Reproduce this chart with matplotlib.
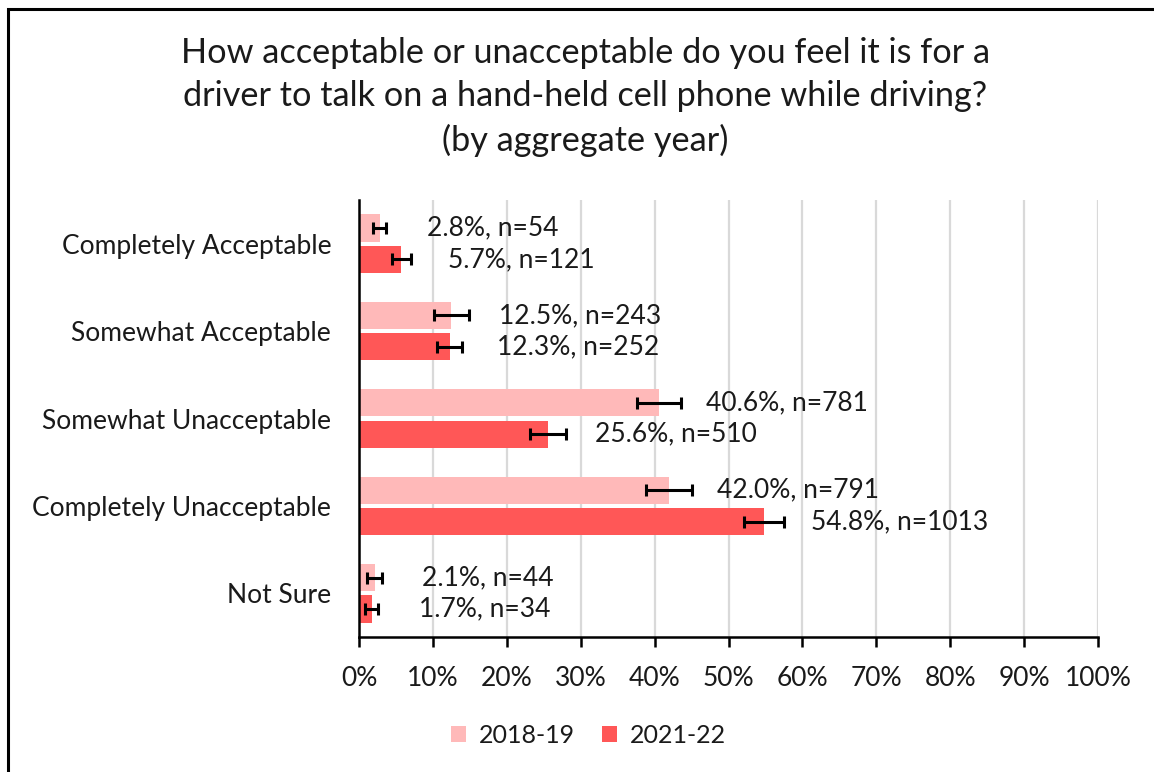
import matplotlib.pyplot as plt
import numpy as np
from matplotlib.patches import Rectangle

plt.rcParams['font.family'] = ['Lato', 'DejaVu Sans']

# data
categories = ["Completely Acceptable", "Somewhat Acceptable", "Somewhat Unacceptable",
              "Completely Unacceptable", "Not Sure"]
years = ["2018-19", "2021-22"]
pct_2018 = [2.8, 12.5, 40.6, 42.0, 2.1]
n_2018 = [54, 243, 781, 791, 44]
err_2018 = [0.9, 2.4, 3.0, 3.1, 1.0]
pct_2021 = [5.7, 12.3, 25.6, 54.8, 1.7]
n_2021 = [121, 252, 510, 1013, 34]
err_2021 = [1.3, 1.7, 2.4, 2.7, 0.9]

c_2018 = "#FFB9B9"
c_2021 = "#FF5757"
fs = 19

fig = plt.figure(figsize=(11.54, 7.72), dpi=100)
ax = fig.add_axes([0.3111, 0.1749, 0.6404, 0.566])

y = np.arange(len(categories))
h = 0.31
off = 0.18

for vals, errs, ns, col, d, lab in [(pct_2018, err_2018, n_2018, c_2018, -off, years[0]),
                                     (pct_2021, err_2021, n_2021, c_2021, off, years[1])]:
    ax.barh(y + d, vals, height=h, color=col, label=lab, zorder=2)
    ax.errorbar(vals, y + d, xerr=errs, fmt='none', ecolor='black',
                elinewidth=2.2, capsize=4.5, capthick=2.2, zorder=3)
    for yi, v, n in zip(y + d, vals, ns):
        ax.annotate(f"{v:.1f}%, n={n}", xy=(v, yi), xytext=(34, 0),
                    textcoords='offset points', va='center', ha='left',
                    fontsize=fs, color='#1a1a1a')

ax.set_xlim(0, 100)
ax.set_ylim(len(categories) - 0.5, -0.5)
ax.set_xticks(np.arange(0, 101, 10))
ax.set_xticklabels([f"{t}%" for t in range(0, 101, 10)], fontsize=fs, color='#1a1a1a')
ax.set_yticks(y)
ax.set_yticklabels(categories, fontsize=fs, color='#1a1a1a')
ax.tick_params(axis='y', length=0, pad=20)
ax.tick_params(axis='x', length=7, width=1.8, direction='out', pad=14)

ax.grid(axis='x', color='#D9D9D9', linewidth=1.6, zorder=0)
ax.set_axisbelow(True)
for s in ['top', 'right']:
    ax.spines[s].set_visible(False)
ax.spines['left'].set_linewidth(1.8)
ax.spines['bottom'].set_linewidth(1.8)

fig.text(0.507, 0.874, "How acceptable or unacceptable do you feel it is for a\n"
         "driver to talk on a hand-held cell phone while driving?\n(by aggregate year)",
         ha='center', va='center', fontsize=24.7, linespacing=1.43, color='#1a1a1a')

leg = fig.legend(loc='center', bbox_to_anchor=(0.51, 0.047), ncol=2, frameon=False,
                 fontsize=18, handlelength=0.6, handleheight=0.6, columnspacing=1.1,
                 handletextpad=0.5)
for t in leg.get_texts():
    t.set_color('#1a1a1a')

# outer frame
fig.patches.append(Rectangle((8 / 1154, -0.05), 1.2, (772 - 9) / 772 + 0.05,
                             transform=fig.transFigure, fill=False,
                             edgecolor='black', linewidth=2.2))

fig.savefig("out.png", dpi=100)
